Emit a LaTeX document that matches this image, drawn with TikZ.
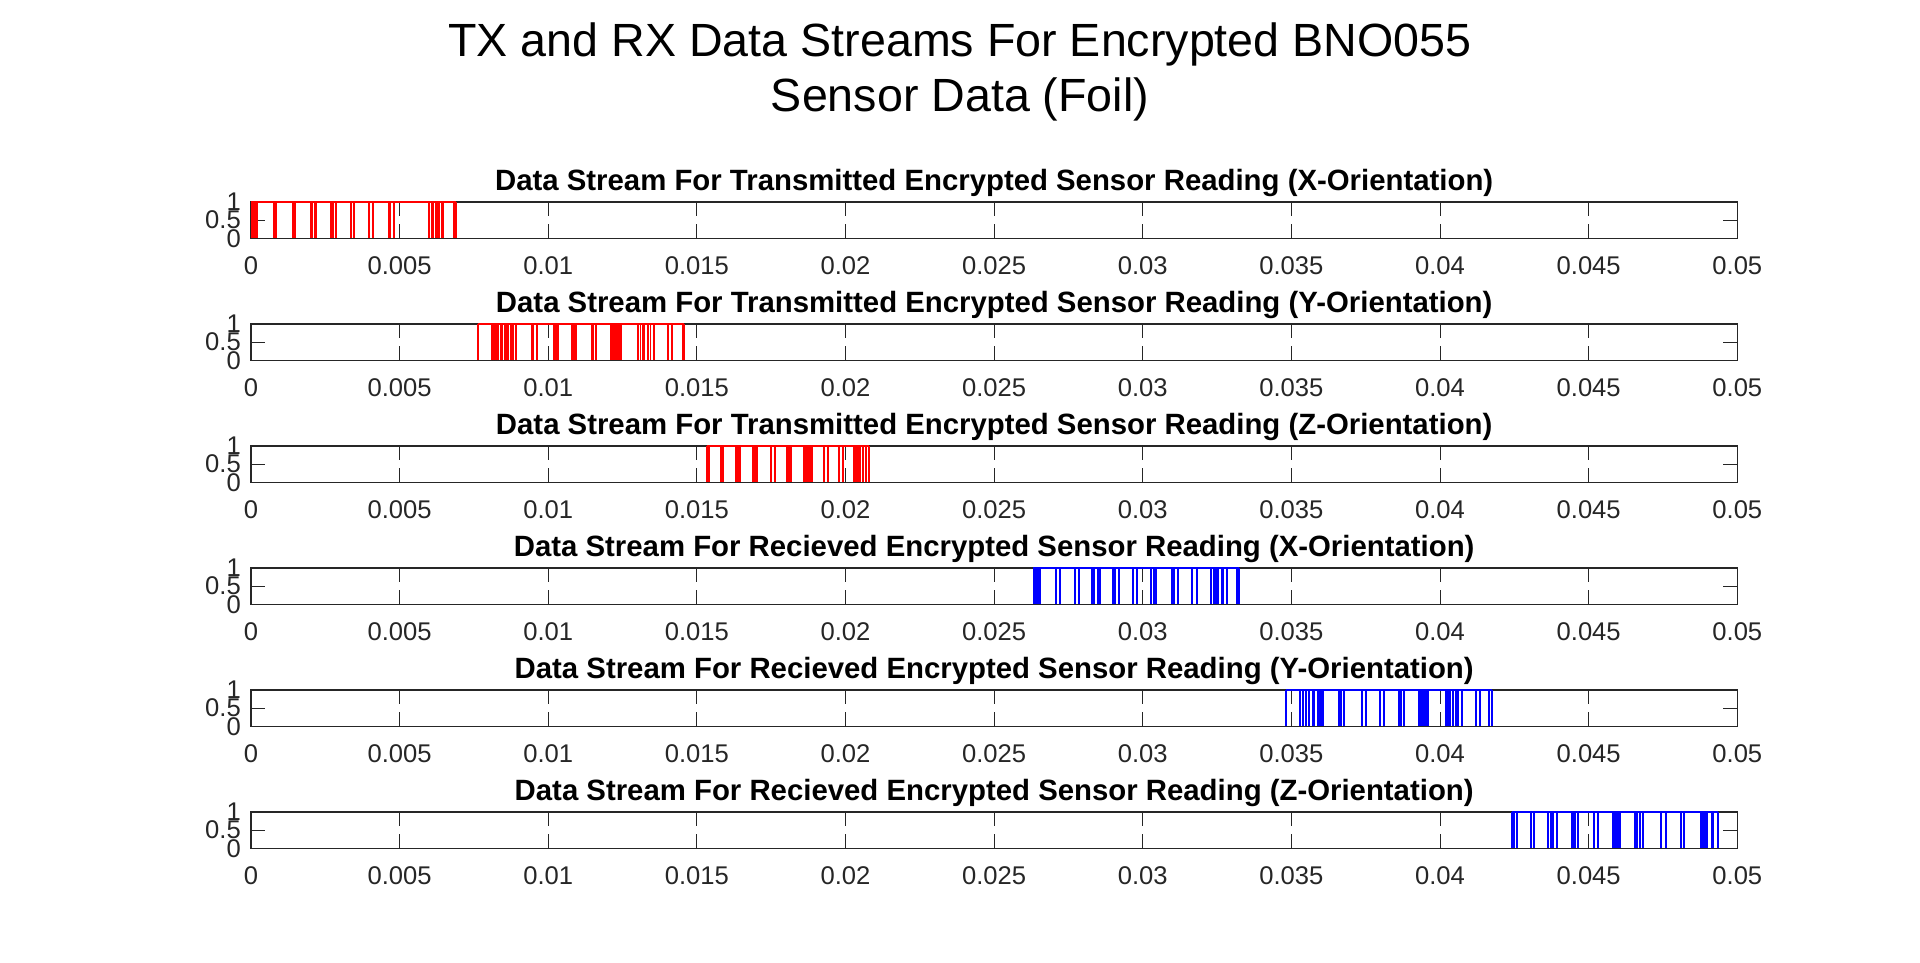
\documentclass[tikz,border=0pt]{standalone}
\usepackage{fontspec}
\setmainfont{Liberation Sans}
\definecolor{axc}{rgb}{0.15,0.15,0.15}
\definecolor{wred}{rgb}{1,0,0}
\definecolor{wblue}{rgb}{0,0,1}
\tikzset{
  axisbox/.style={draw=axc, line width=1.1pt},
  tickmark/.style={draw=axc, line width=1.1pt},
  ticklab/.style={inner sep=0pt, text=axc, font=\fontsize{25.6}{30}\selectfont},
  subtitle/.style={inner sep=0pt, anchor=base, text=black, font=\fontsize{29.35}{34}\selectfont\bfseries},
  maintitle/.style={inner sep=0pt, anchor=base, text=black, font=\fontsize{46.6}{55}\selectfont},
  waveline/.style={line width=1.8pt},
}
\newcommand\wavestream[6]{%
  \pgfmathsetmacro\WT{202+122*#1}%
  \pgfmathsetmacro\WB{\WT+36.3}%
  \draw[#2,waveline] (#3,\WT) -- (#4,\WT);
  \foreach \xx in {#5} {\draw[#2,waveline] (\xx,\WB) -- (\xx,\WT);}
  \foreach \aa/\bb in {#6} {\fill[#2] (\aa,\WB) rectangle (\bb,\WT);}
}
\begin{document}
\begin{tikzpicture}[x=1pt,y=-1pt]
\useasboundingbox[fill=white] (0,0) rectangle (1920,963);
\node[maintitle] (mt1) at (960,56.5) {TX and RX Data Streams For Encrypted BNO055};
\node[maintitle] (mt2) at (960,111.5) {Sensor Data (Foil)};
\foreach \i/\ttl in {0/{Data Stream For Transmitted Encrypted Sensor Reading (X-Orientation)},
                     1/{Data Stream For Transmitted Encrypted Sensor Reading (Y-Orientation)},
                     2/{Data Stream For Transmitted Encrypted Sensor Reading (Z-Orientation)},
                     3/{Data Stream For Recieved Encrypted Sensor Reading (X-Orientation)},
                     4/{Data Stream For Recieved Encrypted Sensor Reading (Y-Orientation)},
                     5/{Data Stream For Recieved Encrypted Sensor Reading (Z-Orientation)}} {
  \pgfmathsetmacro\T{202+122*\i}
  \pgfmathsetmacro\B{\T+36.3}
  \pgfmathsetmacro\M{\T+18.15}
  \draw[axisbox] (251,\T) rectangle (1737.3,\B);
  \foreach \k in {1,...,9} {
    \pgfmathsetmacro\X{251+148.63*\k}
    \draw[tickmark] (\X,\T) -- ++(0,14);
    \draw[tickmark] (\X,\B) -- ++(0,-14);
  }
  \draw[tickmark] (251,\M) -- ++(14,0);
  \draw[tickmark] (1737.3,\M) -- ++(-14,0);
  \foreach \k/\lab in {0/0,1/0.005,2/0.01,3/0.015,4/0.02,5/0.025,6/0.03,7/0.035,8/0.04,9/0.045,10/0.05} {
    \pgfmathsetmacro\X{251+148.63*\k}
    \node[ticklab, anchor=base] (xl\i-\k) at (\X,\B+36) {\lab};
  }
  \node[ticklab, anchor=east] (yla\i) at (241,\T) {1};
  \node[ticklab, anchor=east] (ylb\i) at (241,\M) {0.5};
  \node[ticklab, anchor=east] (ylc\i) at (241,\B) {0};
  \node[subtitle] (st\i) at (994.2,\T-11.5) {\ttl};
}
\wavestream{0}{wred}{251}{456}
  {274.3,275.7,292.7,295,310.7,312,315,316,331,333,335.7,350.7,354,369,373,389,390.3,393.7,429,431.7,433.3,435.7,437.7,439.3,441.7,443.3,454.3,456}
  {251/257.7}
\wavestream{1}{wred}{478.3}{684.3}
  {478.3,491.7,494,496,498,500.7,501.7,505,506,508,510.7,513.3,516,531.7,533.5,536.7,554,556,558.3,571.7,574,576,591.7,593.5,596,638.3,640.5,643,644,648.3,650.5,653.7,667.7,672,682.7,684.3}
  {610/622.3}
\wavestream{2}{wred}{706.7}{869.3}
  {706.7,709,720.7,723.3,771,775,823.7,828,839,842.7,863.3,866,869.3}
  {735/741,752.3/758.3,785.7/792.3,803.3/813.3,853.3/860.7}
\wavestream{3}{wblue}{1033.3}{1239.3}
  {1056,1060,1075,1078.7,1092.3,1094,1098,1100,1113.3,1115,1119,1132.7,1136.7,1151.3,1154,1156,1172.3,1174,1177.7,1192.3,1196.7,1211,1214,1222,1223.3,1226.7,1236.7,1239.3}
  {1033.3/1041.3,1215.3/1219}
\wavestream{4}{wblue}{1285.7}{1492}
  {1285.7,1300,1302.7,1303.3,1306,1309.3,1313.3,1314,1318.3,1319.3,1321,1323.3,1339.3,1341,1344,1361.7,1366,1380,1384,1399,1401,1404,1445.7,1448,1450,1452.7,1456,1458,1461.7,1476,1480,1489.3,1492}
  {1417.7/1429.3}
\wavestream{5}{wblue}{1512.3}{1718.3}
  {1512.3,1514.3,1516.7,1531,1534.3,1548.3,1551,1553,1556.7,1578.3,1594.3,1598.3,1635,1637,1640,1643,1661,1665.7,1680.7,1684,1711.7,1713.3,1718.3}
  {1571/1576,1612.3/1621,1700/1708.3}
\end{tikzpicture}
\end{document}
